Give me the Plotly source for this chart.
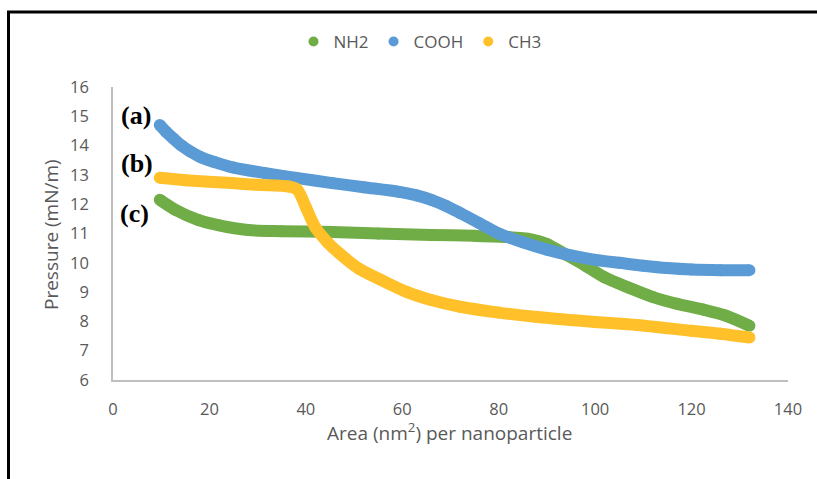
import plotly.graph_objects as go

# ---- data ----
nh2_x = [9.7, 13, 17.7, 22, 28, 35, 45.5, 55, 66, 75, 82, 86, 90, 93.7, 98, 102, 107, 112, 117, 122.5, 127, 132]
nh2_y = [12.15, 11.8, 11.46, 11.28, 11.12, 11.08, 11.05, 11.0, 10.95, 10.92, 10.88, 10.82, 10.64, 10.3, 9.9, 9.5, 9.15, 8.83, 8.6, 8.4, 8.2, 7.85]

cooh_x = [9.7, 11, 12.5, 14.2, 16, 18, 21, 25, 31.6, 38, 45.5, 52, 59.4, 63, 66, 69, 72, 76, 80, 85, 90, 95, 100, 105, 110, 115, 120, 126, 132]
cooh_y = [14.7, 14.47, 14.24, 14.0, 13.8, 13.62, 13.44, 13.25, 13.06, 12.9, 12.72, 12.58, 12.42, 12.3, 12.15, 11.95, 11.7, 11.35, 11.0, 10.7, 10.45, 10.25, 10.1, 10.0, 9.9, 9.82, 9.77, 9.75, 9.75]

ch3_x = [9.7, 15, 24.6, 30, 36.5, 38.2, 40, 42, 44.5, 46.9, 51, 55.8, 61, 66, 72, 80, 88, 100, 108.7, 120, 126, 132]
ch3_y = [12.9, 12.82, 12.72, 12.66, 12.6, 12.5, 11.9, 11.2, 10.7, 10.33, 9.8, 9.4, 9.0, 8.73, 8.5, 8.3, 8.15, 7.98, 7.88, 7.68, 7.58, 7.45]

x_ticks = [0, 20, 40, 60, 80, 100, 120, 140]
y_ticks = [6, 7, 8, 9, 10, 11, 12, 13, 14, 15, 16]

series = [
    ("NH2", nh2_x, nh2_y, "#70AD47"),
    ("COOH", cooh_x, cooh_y, "#5B9BD5"),
    ("CH3", ch3_x, ch3_y, "#FFC02A"),
]

W, H = 817, 479
L, R, T, B = 113, 788, 87, 380

fig = go.Figure()
for name, xs, ys, col in series:
    fig.add_trace(go.Scatter(
        x=xs, y=ys, name=name, mode="lines+markers", showlegend=False,
        line=dict(color=col, width=12, shape="spline", smoothing=0.8),
        marker=dict(color=col, size=12, line=dict(width=0)),
    ))
# legend entries (dots only, as in the reference)
for name, xs, ys, col in series:
    fig.add_trace(go.Scatter(
        x=[None], y=[None], name=name, mode="markers",
        marker=dict(color=col, size=10, line=dict(width=0)),
    ))

def px(xp):
    return (xp - L) / (R - L)

def py(yp):
    return (B - yp) / (B - T)

gray = "#595959"
serif = dict(family="Liberation Serif, serif", size=26, color="black")
fig.update_layout(
    width=W, height=H,
    margin=dict(l=L, r=W - R, t=T, b=H - B),
    paper_bgcolor="white", plot_bgcolor="white",
    font=dict(family="Open Sans, sans-serif", color=gray, size=16),
    showlegend=True,
    legend=dict(orientation="h", x=px(420), xanchor="center", y=py(42), yanchor="middle",
                font=dict(size=17, color=gray), itemsizing="trace",
                itemwidth=30, tracegroupgap=0),
    xaxis=dict(range=[0, 140], tickvals=x_ticks, showgrid=False, zeroline=False,
               showline=True, linecolor="#BFBFBF", linewidth=1.5, ticks="",
               tickfont=dict(size=16.5, color=gray), ticklabelstandoff=13),
    yaxis=dict(range=[6, 16], tickvals=y_ticks, showgrid=False, zeroline=False,
               showline=True, linecolor="#BFBFBF", linewidth=1.5, ticks="",
               tickfont=dict(size=16.5, color=gray), ticklabelstandoff=19),
    annotations=[
        dict(text="Area (nm<sup>2</sup>) per nanoparticle", xref="paper", yref="paper",
             x=px(449), y=py(432), showarrow=False, xanchor="center", yanchor="middle",
             font=dict(size=19, color=gray)),
        dict(text="Pressure (mN/m)", xref="paper", yref="paper", textangle=-90,
             x=px(51), y=py(235), showarrow=False, xanchor="center", yanchor="middle",
             font=dict(size=19, color=gray)),
        dict(text="<b>(a)</b>", xref="paper", yref="paper", x=px(136), y=py(115),
             showarrow=False, xanchor="center", yanchor="middle", font=serif),
        dict(text="<b>(b)</b>", xref="paper", yref="paper", x=px(136.5), y=py(163),
             showarrow=False, xanchor="center", yanchor="middle", font=serif),
        dict(text="<b>(c)</b>", xref="paper", yref="paper", x=px(134), y=py(213),
             showarrow=False, xanchor="center", yanchor="middle", font=serif),
    ],
    shapes=[
        dict(type="line", xref="paper", yref="paper", x0=px(7), x1=px(817), y0=py(12), y1=py(12),
             line=dict(color="black", width=3)),
        dict(type="line", xref="paper", yref="paper", x0=px(8.5), x1=px(8.5), y0=py(11), y1=py(479),
             line=dict(color="black", width=3)),
    ],
)

fig.write_html("out.html")
